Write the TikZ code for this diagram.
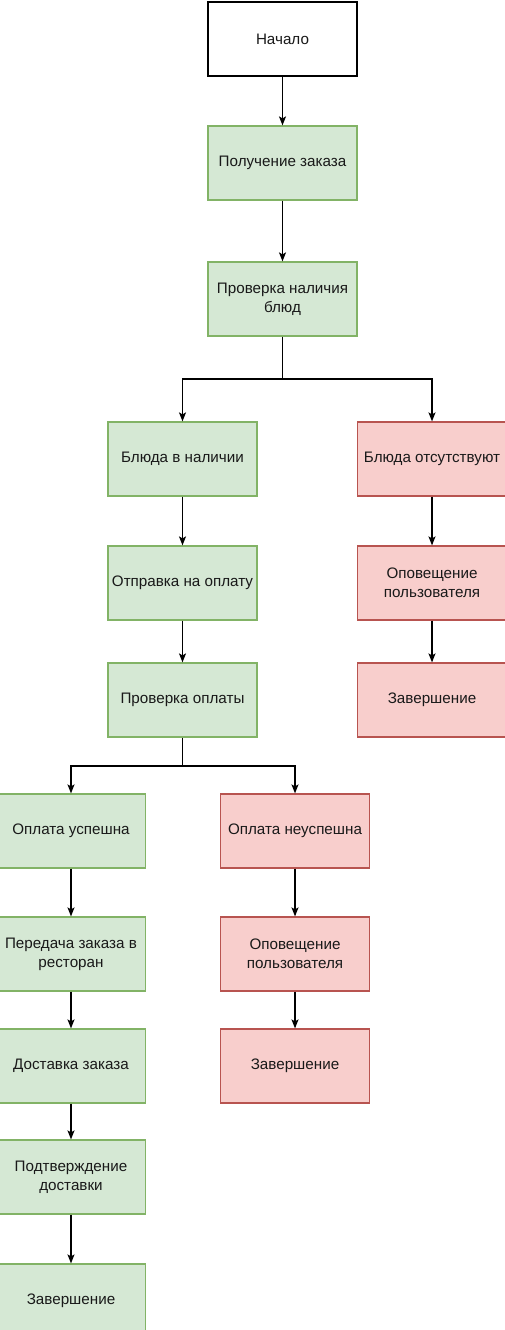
\documentclass[tikz,border=0pt]{standalone}
\usepackage{fontspec}
\setmainfont{Liberation Sans}
\usetikzlibrary{arrows.meta}
\definecolor{gfill}{HTML}{D5E8D4}
\definecolor{gdraw}{HTML}{82B366}
\definecolor{rfill}{HTML}{F8CECC}
\definecolor{rdraw}{HTML}{B85450}
\begin{document}
\begin{tikzpicture}[x=1pt,y=-1pt,
  box/.style={rectangle,minimum width=149pt,minimum height=74pt,inner sep=2pt,
    line width=1.2pt,align=center,font=\fontsize{15.2}{19}\selectfont,text=black!90},
  startbox/.style={box,draw=black,fill=white},
  okbox/.style={box,draw=gdraw,fill=gfill},
  badbox/.style={box,draw=rdraw,fill=rfill},
  conn/.style={line width=1.2pt,-{Stealth[length=9pt,width=7pt,inset=2pt]}}]
\useasboundingbox (0,0) rectangle (504,1330);
\fill[white] (0,0) rectangle (504,1330);
\node[startbox] (s) at (282.5,39) {Начало};
\node[okbox] (n1) at (282.5,163) {Получение заказа};
\node[okbox] (n2) at (282.5,299) {Проверка наличия\\блюд};
\node[okbox] (a1) at (182.5,459) {Блюда в наличии};
\node[badbox] (b1) at (432,459) {Блюда отсутствуют};
\node[okbox] (a2) at (182.5,583) {Отправка на оплату};
\node[badbox] (b2) at (432,583) {Оповещение\\пользователя};
\node[okbox] (a3) at (182.5,700) {Проверка оплаты};
\node[badbox] (b3) at (432,700) {Завершение};
\node[okbox] (c1) at (71,831) {Оплата успешна};
\node[badbox] (d1) at (295,831) {Оплата неуспешна};
\node[okbox] (c2) at (71,954) {Передача заказа в\\ресторан};
\node[badbox] (d2) at (295,954) {Оповещение\\пользователя};
\node[okbox] (c3) at (71,1066) {Доставка заказа};
\node[badbox] (d3) at (295,1066) {Завершение};
\node[okbox] (c4) at (71,1177) {Подтверждение\\доставки};
\node[okbox] (c5) at (71,1301) {Завершение};
\coordinate (j1) at (282.5,379);
\coordinate (j2) at (182.5,766);
\draw[conn] (s) -- (n1);
\draw[conn] (n1) -- (n2);
\draw[line width=1.2pt] (n2.south) -- (j1);
\draw[conn] (j1) -| (a1.north);
\draw[conn] (j1) -| (b1.north);
\draw[conn] (a1) -- (a2);
\draw[conn] (a2) -- (a3);
\draw[conn] (b1) -- (b2);
\draw[conn] (b2) -- (b3);
\draw[line width=1.2pt] (a3.south) -- (j2);
\draw[conn] (j2) -| (c1.north);
\draw[conn] (j2) -| (d1.north);
\draw[conn] (c1) -- (c2);
\draw[conn] (c2) -- (c3);
\draw[conn] (c3) -- (c4);
\draw[conn] (c4) -- (c5);
\draw[conn] (d1) -- (d2);
\draw[conn] (d2) -- (d3);
\end{tikzpicture}
\end{document}
